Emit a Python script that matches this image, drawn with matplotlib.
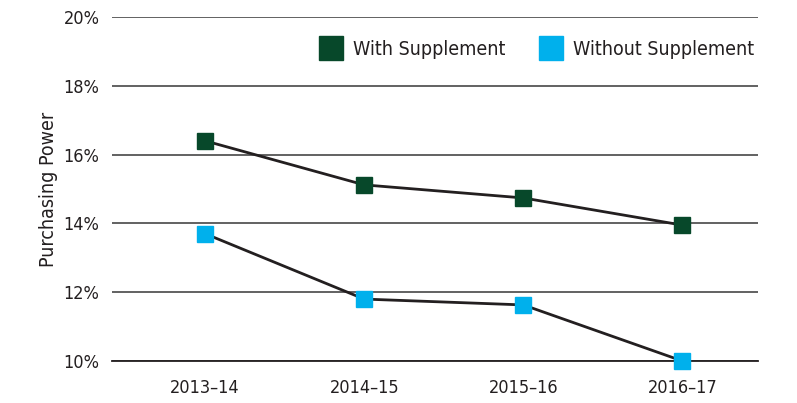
import matplotlib
matplotlib.use("Agg")
from matplotlib import pyplot as plt
from matplotlib.lines import Line2D

plt.rcParams['font.family'] = ['Liberation Sans Narrow', 'DejaVu Sans']
plt.rcParams['font.stretch'] = 'condensed'

years = ["2013\u201314", "2014\u201315", "2015\u201316", "2016\u201317"]
with_supp = [16.4, 15.12, 14.74, 13.95]
without_supp = [13.7, 11.8, 11.63, 10.0]
yticks = [10, 12, 14, 16, 18, 20]

dark_green = "#07482a"
light_blue = "#00b0ec"

fig = plt.figure(figsize=(7.97, 4.03), dpi=100)
ax = fig.add_axes([112 / 797, 1 - 361 / 403, (758 - 112) / 797, (361 - 17) / 403])

x = list(range(len(years)))
ax.plot(x, with_supp, color="#231f20", lw=2, marker="s", ms=12,
        mfc=dark_green, mec=dark_green, zorder=3, clip_on=False)
ax.plot(x, without_supp, color="#231f20", lw=2, marker="s", ms=12,
        mfc=light_blue, mec=light_blue, zorder=3, clip_on=False)

ax.set_ylim(10, 20)
ax.set_xlim(-0.585, 3.475)
ax.set_yticks(yticks)
ax.set_yticklabels(["%d%%" % v for v in yticks])
ax.set_xticks(x)
ax.set_xticklabels(years)
ax.yaxis.grid(True, color="#555555", lw=1.3)
ax.set_axisbelow(True)
for s in ["top", "right", "left"]:
    ax.spines[s].set_visible(False)
ax.spines["bottom"].set_color("#231f20")
ax.spines["bottom"].set_linewidth(1.3)
ax.tick_params(axis="both", length=0, labelsize=13, colors="#231f20")
ax.tick_params(axis="y", pad=9)
ax.tick_params(axis="x", pad=13)
ax.set_ylabel("Purchasing Power", fontsize=14, color="#231f20", labelpad=4)

handles = [
    Line2D([], [], ls="none", marker="s", ms=17, mfc=dark_green, mec=dark_green),
    Line2D([], [], ls="none", marker="s", ms=17, mfc=light_blue, mec=light_blue),
]
ax.legend(handles, ["With Supplement", "Without Supplement"], ncol=2,
          loc="upper right", bbox_to_anchor=(1.006, 0.955), frameon=False,
          fontsize=14, handlelength=1.24, handletextpad=0.52, columnspacing=1.7,
          labelcolor="#231f20", borderaxespad=0)

fig.savefig("out.png", dpi=100)
